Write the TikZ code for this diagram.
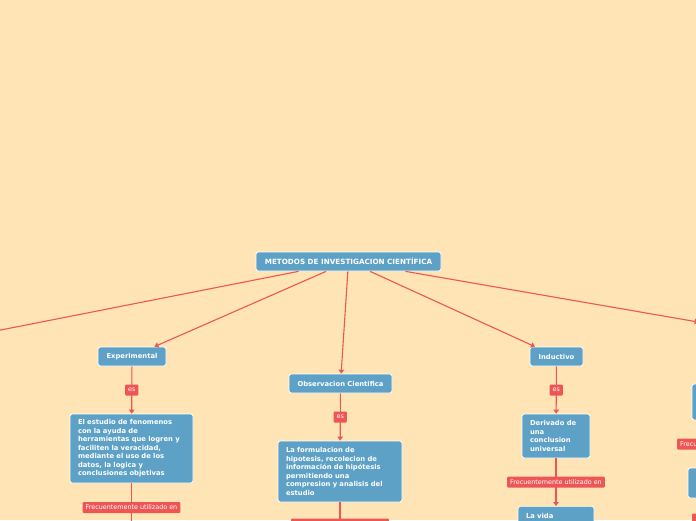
\documentclass[tikz,border=0pt]{standalone}
\usepackage{fontspec}
\setmainfont{DejaVu Sans}
\usetikzlibrary{arrows.meta}
\definecolor{bgc}{RGB}{255,228,181}
\definecolor{topicblue}{RGB}{93,161,198}
\definecolor{linkred}{RGB}{238,86,86}
\tikzset{
 box/.style={draw=white, line width=0.7pt, fill=topicblue, rounded corners=2.5pt, text=white, font=\bfseries\fontsize{6.8}{8.5}\selectfont, inner sep=0pt},
 rootbox/.style={box, font=\bfseries\fontsize{7.2}{8.5}\selectfont},
 descbox/.style={box, align=left, inner xsep=8pt, inner ysep=0pt},
 lab/.style={fill=linkred, text=white, rounded corners=1pt, font=\fontsize{6.4}{7}\selectfont, inner xsep=3pt, inner ysep=0pt, minimum height=11pt},
 conn/.style={draw=linkred, line width=1.1pt, -{Triangle[length=4pt,width=5.5pt]}},
}
\begin{document}
\begin{tikzpicture}[x=1pt,y=-1pt]
\path[use as bounding box, fill=bgc] (0,0) rectangle (696,520);
\clip (0,0) rectangle (696,520);
% main nodes
\node[rootbox, minimum width=185pt, minimum height=19pt] (root) at (348.5,261.5) {METODOS DE INVESTIGACION CIENTÍFICA};
\node[box, minimum width=68pt, minimum height=19pt] (exp) at (132,356.5) {Experimental};
\node[box, minimum width=103pt, minimum height=19pt] (obs) at (340.5,383.5) {Observacion Cientifica};
\node[box, minimum width=53pt, minimum height=19pt] (ind) at (556.5,356.5) {Inductivo};
\node[box, minimum width=60pt, minimum height=19pt] (offL) at (-40,338) {};
\node[box, minimum width=56pt, minimum height=19pt] (offR) at (727,327) {};
% descriptions
\node[descbox, text width=107pt, minimum height=69pt] (expd) at (131.5,448.5) {El estudio de fenomenos\\con la ayuda de\\herramientas que logren y\\faciliten la veracidad,\\mediante el uso de los\\datos, la logica y\\conclusiones objetivas};
\node[descbox, text width=108pt, minimum height=61pt] (obsd) at (340,471.5) {La formulacion de\\hipotesis, recolecion de\\información de hipótesis\\permitiendo una\\compresion y analisis del\\estudio};
\node[descbox, text width=52pt, minimum height=44pt] (indd) at (556,436) {Derivado de\\una\\conclusion\\universal};
\node[descbox, text width=60pt, inner ysep=7pt, anchor=north] (indv) at (556,506) {La vida};
% below-canvas nodes
\node[box, minimum width=60pt, minimum height=26pt] (expb) at (131.5,545) {};
\node[box, minimum width=60pt, minimum height=30pt] (obsb) at (340,561) {};
% right column
\node[box, minimum width=68pt, minimum height=36pt] (rd1) at (726,402) {};
\node[box, minimum width=76pt, minimum height=30pt] (rd2) at (726,483) {};
\node[box, minimum width=68pt, minimum height=24pt] (rd3) at (726,552) {};
% connectors
\draw[conn] (root) -- (offL);
\draw[conn] (root) -- (exp);
\draw[conn] (root) -- (obs);
\draw[conn] (root) -- (ind);
\draw[conn] (root) -- (offR);
\draw[conn] (exp) -- node[lab] (l1) {es} (expd);
\draw[conn] (obs) -- node[lab] (l2) {es} (obsd);
\draw[conn] (ind) -- node[lab] (l3) {es} (indd);
\draw[conn] (expd) -- node[lab] (l4) {Frecuentemente utilizado en} (expb);
\draw[conn] (obsd) -- node[lab] (l5) {Frecuentemente utilizado en} (obsb);
\draw[conn] (indd) -- node[lab] (l6) {Frecuentemente utilizado en} (indv);
\draw[conn] (offR) -- node[lab] (l7) {es} (rd1);
\draw[conn] (rd1) -- node[lab] (l8) {Frecuentemente utilizado en} (rd2);
\draw[conn] (rd2) -- node[lab, minimum width=68pt] (l9) {} (rd3);
\end{tikzpicture}
\end{document}
